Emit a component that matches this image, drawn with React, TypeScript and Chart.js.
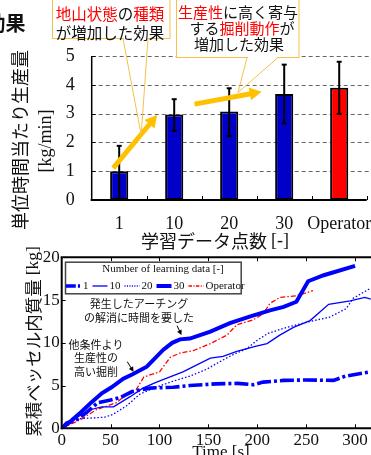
import React, { useEffect, useRef } from "react";
import { Chart, registerables } from "chart.js";
Chart.register(...registerables);

// ---------- top bar chart data ----------
const barCategories = ["1", "10", "20", "30", "Operator"];
const barMeans = [1.0, 2.97, 3.07, 3.68, 3.9];
const barErrLow = [0.05, 2.4, 2.22, 2.66, 2.99];
const barErrHigh = [1.88, 3.5, 3.88, 4.7, 4.8];
const barColors = ["#0000C8", "#0000C8", "#0000C8", "#0000C8", "#FF0000"];
const barYTicks = [0, 1, 2, 3, 4, 5];

// ---------- bottom line chart data ----------
const lineXTicks = [0, 50, 100, 150, 200, 250, 300];
const lineYTicks = [0, 5, 10, 15, 20];
const t1 = [0, 5, 15, 25, 37, 50, 60, 72, 90, 100, 114, 131, 158, 180, 196, 206, 227, 250, 278, 290, 316];
const v1 = [0, 0.6, 1.0, 1.8, 3.0, 3.3, 3.6, 4.3, 4.7, 4.75, 4.8, 5.0, 5.2, 5.25, 5.1, 5.4, 5.6, 5.65, 5.6, 6.1, 6.6];
const t10 = [0, 10, 20, 30, 41, 53, 70, 83, 97, 124, 152, 165, 179, 199, 210, 223, 237, 254, 273, 295, 310, 316];
const v10 = [0, 0.9, 1.6, 2.2, 2.5, 2.5, 3.7, 4.7, 5.4, 6.6, 8.2, 8.4, 9.0, 9.6, 9.9, 10.9, 11.8, 12.6, 14.5, 14.9, 15.3, 15.1];
const t20 = [0, 8, 15, 30, 44, 52, 66, 80, 94, 111, 131, 148, 162, 175, 189, 200, 211, 230, 254, 274, 291, 298, 316];
const v20 = [0, 0.7, 1.1, 1.2, 1.3, 1.6, 2.6, 4.0, 4.7, 5.4, 6.1, 6.9, 7.8, 8.6, 9.3, 10.3, 11.1, 11.8, 12.5, 13.0, 14.0, 15.2, 16.4];
const t30 = [0, 10, 20, 30, 41, 51, 63, 72, 87, 104, 113, 121, 131, 152, 172, 193, 213, 227, 240, 252, 268, 300];
const v30 = [0, 0.9, 1.9, 3.0, 4.1, 4.8, 5.8, 6.3, 7.2, 9.2, 10.0, 10.4, 10.5, 11.3, 12.3, 13.1, 13.8, 14.2, 14.8, 17.2, 17.9, 19.0];
const tOp = [0, 19, 36, 56, 67, 76, 84, 100, 111, 121, 135, 152, 169, 179, 196, 206, 213, 223, 240, 257];
const vOp = [0, 1.0, 2.2, 3.0, 4.0, 4.5, 6.0, 6.6, 8.3, 8.8, 9.1, 9.9, 10.9, 12.1, 12.7, 13.4, 14.6, 15.3, 15.5, 16.1];

const seriesLabels = ["1", "10", "20", "30", "Operator"];
const seriesT = [t1, t10, t20, t30, tOp];
const seriesV = [v1, v10, v20, v30, vOp];
const seriesColors = ["#0000FF", "#0000FF", "#0000FF", "#0000FF", "#FF0000"];
const seriesWidths = [3.6, 1.3, 1.3, 4, 1.3];
const seriesDash: number[][] = [[14, 3, 3, 3], [], [1.5, 2], [], [5, 2, 1.5, 2]];

const SERIF = '"Liberation Serif", "Times New Roman", serif';
const SANS = '"Noto Sans CJK JP", "Noto Sans", sans-serif';

type Seg = { t: string; c?: string; f?: string };

function drawSegs(ctx: CanvasRenderingContext2D, segs: Seg[], cx: number, cy: number, defFont: string) {
  let total = 0;
  for (const s of segs) {
    ctx.font = s.f || defFont;
    total += ctx.measureText(s.t).width;
  }
  let x = cx - total / 2;
  ctx.textAlign = "left";
  ctx.textBaseline = "middle";
  for (const s of segs) {
    ctx.font = s.f || defFont;
    ctx.fillStyle = s.c || "#111";
    ctx.fillText(s.t, x, cy);
    x += ctx.measureText(s.t).width;
  }
}

function drawArrow(ctx: CanvasRenderingContext2D, x0: number, y0: number, x1: number, y1: number, w: number, hl: number, hw: number, color: string) {
  const dx = x1 - x0, dy = y1 - y0;
  const L = Math.hypot(dx, dy);
  const ux = dx / L, uy = dy / L;
  const px = -uy, py = ux;
  const bx = x1 - ux * hl, by = y1 - uy * hl;
  ctx.save();
  ctx.strokeStyle = color;
  ctx.fillStyle = color;
  ctx.lineWidth = w;
  ctx.lineCap = "butt";
  ctx.beginPath();
  ctx.moveTo(x0, y0);
  ctx.lineTo(bx + ux * 1, by + uy * 1);
  ctx.stroke();
  ctx.beginPath();
  ctx.moveTo(x1, y1);
  ctx.lineTo(bx + px * hw / 2, by + py * hw / 2);
  ctx.lineTo(bx - px * hw / 2, by - py * hw / 2);
  ctx.closePath();
  ctx.fill();
  ctx.restore();
}

function line(ctx: CanvasRenderingContext2D, x0: number, y0: number, x1: number, y1: number) {
  ctx.beginPath();
  ctx.moveTo(x0, y0);
  ctx.lineTo(x1, y1);
  ctx.stroke();
}

const barDecor = {
  id: "barDecor",
  beforeDatasetsDraw(chart: any) {
    const { ctx, chartArea, scales } = chart;
    const y = scales.y;
    ctx.save();
    ctx.strokeStyle = "#666";
    ctx.lineWidth = 1;
    ctx.setLineDash([4, 3]);
    for (const v of barYTicks) {
      if (v <= 0) continue;
      const py = Math.round(y.getPixelForValue(v)) + 0.5;
      line(ctx, chartArea.left, py, chart.width, py);
    }
    ctx.restore();
  },
  afterDatasetsDraw(chart: any) {
    const { ctx, chartArea, scales } = chart;
    const x = scales.x, y = scales.y;
    ctx.save();
    // error bars
    ctx.strokeStyle = "#000";
    ctx.lineWidth = 2;
    barCategories.forEach((_, i) => {
      const px = x.getPixelForValue(i);
      const yl = y.getPixelForValue(barErrLow[i]);
      const yh = y.getPixelForValue(barErrHigh[i]);
      line(ctx, px, yl, px, yh);
      line(ctx, px - 2.5, yh, px + 2.5, yh);
      line(ctx, px - 2.5, yl, px + 2.5, yl);
    });
    // axes
    ctx.lineWidth = 1.5;
    line(ctx, chartArea.left, chartArea.top, chartArea.left, chartArea.bottom + 1);
    ctx.lineWidth = 2;
    line(ctx, chartArea.left - 1, chartArea.bottom, chartArea.right, chartArea.bottom);
    ctx.lineWidth = 1;
    for (const v of barYTicks) {
      if (v <= 0) continue;
      const py = Math.round(y.getPixelForValue(v)) + 0.5;
      line(ctx, chartArea.left, py, chartArea.left + 4, py);
    }
    const step = (chartArea.right - chartArea.left) / barCategories.length;
    for (let i = 1; i <= barCategories.length; i++) {
      const px = Math.round(chartArea.left + step * i) + 0.5;
      line(ctx, px, chartArea.bottom, px, chartArea.bottom - 4);
    }
    // yellow arrows (anchored to data coordinates)
    drawArrow(ctx, x.getPixelForValue(-0.11), y.getPixelForValue(1.11), x.getPixelForValue(0.69), y.getPixelForValue(2.95), 5, 12, 13, "#FFC000");
    drawArrow(ctx, x.getPixelForValue(1.37), y.getPixelForValue(3.33), x.getPixelForValue(2.59), y.getPixelForValue(3.76), 5, 12, 13, "#FFC000");

    // callout 1
    const bc = "#F6C04A";
    ctx.strokeStyle = bc;
    ctx.lineWidth = 1;
    const tip1x = x.getPixelForValue(0.4), tip1y = y.getPixelForValue(2.26);
    ctx.fillStyle = "#fff";
    ctx.fillRect(52, -2, 118, 40);
    ctx.strokeRect(52.5, -2, 117.5, 40.5);
    ctx.fillStyle = "#fff";
    ctx.fillRect(124, 37, 23, 3);
    line(ctx, 123, 38.5, tip1x, tip1y);
    line(ctx, 148, 38.5, tip1x, tip1y);
    drawSegs(ctx, [{ t: "地山状態", c: "#FF0000" }, { t: "の" }, { t: "種類", c: "#FF0000" }], 110, 14, `15.5px ${SANS}`);
    drawSegs(ctx, [{ t: "が増加した効果" }], 110, 33, `15.5px ${SANS}`);

    // callout 2
    const tip2x = x.getPixelForValue(2.16), tip2y = y.getPixelForValue(3.73);
    ctx.fillStyle = "#fff";
    ctx.fillRect(176, -2, 123, 59);
    ctx.strokeRect(176.5, -2, 122.5, 59.5);
    ctx.fillRect(248, 56, 29, 3);
    line(ctx, 247, 57.5, tip2x, tip2y);
    line(ctx, 278, 57.5, tip2x, tip2y);
    drawSegs(ctx, [{ t: "生産性", c: "#FF0000" }, { t: "に高く寄与" }], 238, 12, `15px ${SANS}`);
    drawSegs(ctx, [{ t: "する" }, { t: "掘削動作", c: "#FF0000" }, { t: "が" }], 242, 28, `15px ${SANS}`);
    drawSegs(ctx, [{ t: "増加した効果" }], 239, 44.5, `15px ${SANS}`);

    // partial heading
    ctx.font = `bold 20px ${SANS}`;
    ctx.fillStyle = "#111";
    ctx.textAlign = "right";
    ctx.textBaseline = "middle";
    ctx.fillText("効果", 25.5, 23);

    // axis titles
    drawSegs(ctx, [{ t: "学習データ点数 ", f: `18px ${SANS}` }, { t: "[-]", f: `18px ${SERIF}` }], 215, 241, `18px ${SANS}`);
    ctx.save();
    ctx.translate(20, 140);
    ctx.rotate(-Math.PI / 2);
    drawSegs(ctx, [{ t: "単位時間当たり生産量" }], 0, 0, `18px ${SANS}`);
    ctx.restore();
    ctx.save();
    ctx.translate(46, 141);
    ctx.rotate(-Math.PI / 2);
    drawSegs(ctx, [{ t: "[kg/min]" }], 0, 0, `18px ${SERIF}`);
    ctx.restore();
    ctx.restore();
  },
};

const lineDecor = {
  id: "lineDecor",
  afterDatasetsDraw(chart: any) {
    const { ctx, chartArea, scales } = chart;
    const x = scales.x, y = scales.y;
    ctx.save();
    ctx.strokeStyle = "#000";
    ctx.lineWidth = 2;
    line(ctx, chartArea.left, chartArea.top, chartArea.left, chartArea.bottom + 1);
    line(ctx, chartArea.left - 1, chartArea.top, chartArea.right, chartArea.top);
    line(ctx, chartArea.left - 1, chartArea.bottom, chartArea.right, chartArea.bottom);
    ctx.lineWidth = 1;
    for (const v of lineXTicks) {
      if (v <= 0) continue;
      const px = Math.round(x.getPixelForValue(v)) + 0.5;
      line(ctx, px, chartArea.bottom, px, chartArea.bottom - 4);
      line(ctx, px, chartArea.top, px, chartArea.top + 4);
    }
    for (const v of lineYTicks) {
      if (v <= 0 || v >= 20) continue;
      const py = Math.round(y.getPixelForValue(v)) + 0.5;
      line(ctx, chartArea.left, py, chartArea.left + 4, py);
    }

    // legend
    const lx = 65, ly = 26.7, lw = 175.7, lh = 31.6;
    ctx.fillStyle = "#fff";
    ctx.fillRect(lx, ly, lw, lh);
    ctx.strokeStyle = "#444";
    ctx.lineWidth = 1.5;
    ctx.strokeRect(lx + 0.5, ly + 0.5, lw, lh);
    drawSegs(ctx, [{ t: "Number of learning data [-]" }], 163, 34.5, `11px ${SERIF}`);
    let cx = 66;
    const iy = 51;
    seriesLabels.forEach((lab, i) => {
      ctx.save();
      ctx.strokeStyle = seriesColors[i];
      ctx.lineWidth = seriesWidths[i];
      ctx.setLineDash(seriesDash[i].length ? seriesDash[i].map((d) => d * 0.7) : []);
      line(ctx, cx, iy, cx + 15, iy);
      ctx.restore();
      cx += 17;
      ctx.font = `11px ${SERIF}`;
      ctx.fillStyle = "#111";
      ctx.textAlign = "left";
      ctx.textBaseline = "middle";
      ctx.fillText(lab, cx, iy);
      cx += ctx.measureText(lab).width + 4;
    });

    // annotations
    const f = `11px ${SANS}`;
    drawSegs(ctx, [{ t: "発生したアーチング" }], 139, 68.5, f);
    drawSegs(ctx, [{ t: "の解消に時間を要した" }], 139, 83.3, f);
    drawSegs(ctx, [{ t: "他条件より" }], 96, 110, f);
    drawSegs(ctx, [{ t: "生産性の" }], 96, 123.3, f);
    drawSegs(ctx, [{ t: "高い掘削" }], 96, 136.7, f);
    ctx.lineWidth = 1;
    drawArrow(ctx, x.getPixelForValue(118), y.getPixelForValue(12.0), x.getPixelForValue(122.5), y.getPixelForValue(10.9), 1, 5, 5, "#000");
    drawArrow(ctx, x.getPixelForValue(67), y.getPixelForValue(7.8), x.getPixelForValue(73.5), y.getPixelForValue(6.6), 1, 5, 5, "#000");

    // titles
    ctx.save();
    ctx.translate(33, 106.5);
    ctx.rotate(-Math.PI / 2);
    drawSegs(ctx, [{ t: "累積ベッセル内質量 ", f: `17.5px ${SANS}` }, { t: "[kg]", f: `17.5px ${SERIF}` }], 0, 0, `17.5px ${SANS}`);
    ctx.restore();
    ctx.font = `17px ${SERIF}`;
    ctx.fillStyle = "#111";
    ctx.textAlign = "center";
    ctx.textBaseline = "alphabetic";
    ctx.fillText("Time [s]", 221, 222);
    ctx.restore();
  },
};

export default function App() {
  const barRef = useRef<HTMLCanvasElement>(null);
  const lineRef = useRef<HTMLCanvasElement>(null);

  useEffect(() => {
    const c1 = new Chart(barRef.current!, {
      type: "bar",
      data: {
        labels: barCategories,
        datasets: [
          {
            data: barMeans,
            backgroundColor: barColors,
            borderColor: "#000",
            borderWidth: 2,
            borderSkipped: false,
            barPercentage: 0.33,
            categoryPercentage: 1,
          },
        ],
      },
      options: {
        responsive: false,
        animation: false,
        devicePixelRatio: 1,
        layout: { padding: { top: 56, right: 4.3, left: 0, bottom: 0 } },
        plugins: { legend: { display: false }, tooltip: { enabled: false } },
        scales: {
          x: {
            type: "category",
            offset: true,
            grid: { display: false, drawTicks: false },
            border: { display: false },
            ticks: { autoSkip: false, maxRotation: 0, minRotation: 0, padding: 13, color: "#111", font: { family: SERIF, size: 18 } },
            afterFit: (s: any) => {
              s.height = 50;
              s.paddingLeft = 0;
              s.paddingRight = 0;
            },
          },
          y: {
            min: 0,
            max: 5,
            grid: { display: false, drawTicks: false },
            border: { display: false },
            ticks: { stepSize: 1, padding: 17, color: "#111", font: { family: SERIF, size: 18 } },
            afterFit: (s: any) => {
              s.width = 91.7;
              s.paddingTop = 0;
              s.paddingBottom = 0;
            },
          },
        },
      } as any,
      plugins: [barDecor],
    });

    const c2 = new Chart(lineRef.current!, {
      type: "line",
      data: {
        datasets: seriesLabels.map((lab, i) => ({
          label: lab,
          data: seriesT[i].map((t, j) => ({ x: t, y: seriesV[i][j] })),
          borderColor: seriesColors[i],
          borderWidth: seriesWidths[i],
          borderDash: seriesDash[i],
          pointRadius: 0,
          tension: 0,
          fill: false,
        })),
      },
      options: {
        responsive: false,
        animation: false,
        devicePixelRatio: 1,
        layout: { padding: { top: 22.3, right: 0, left: 0, bottom: 0 } },
        plugins: { legend: { display: false }, tooltip: { enabled: false } },
        scales: {
          x: {
            type: "linear",
            min: 0,
            max: 316.3,
            grid: { display: false, drawTicks: false },
            border: { display: false },
            ticks: { stepSize: 50, includeBounds: false, autoSkip: false, maxRotation: 0, padding: 2, color: "#111", font: { family: SERIF, size: 17 } },
            afterFit: (s: any) => {
              s.height = 26.7;
              s.paddingLeft = 0;
              s.paddingRight = 0;
            },
          },
          y: {
            min: 0,
            max: 20,
            grid: { display: false, drawTicks: false },
            border: { display: false },
            ticks: { stepSize: 5, padding: 2, color: "#111", font: { family: SERIF, size: 17 } },
            afterFit: (s: any) => {
              s.width = 61.7;
              s.paddingTop = 0;
              s.paddingBottom = 0;
            },
          },
        },
      } as any,
      plugins: [lineDecor],
    });

    return () => {
      c1.destroy();
      c2.destroy();
    };
  }, []);

  return (
    <div style={{ position: "fixed", left: 0, top: 0, width: 371, height: 455, overflow: "hidden", background: "#fff" }}>
      <canvas ref={barRef} width={371} height={250} style={{ position: "absolute", left: 0, top: 0, width: 371, height: 250 }} />
      <canvas ref={lineRef} width={371} height={220} style={{ position: "absolute", left: 0, top: 235, width: 371, height: 220 }} />
    </div>
  );
}
